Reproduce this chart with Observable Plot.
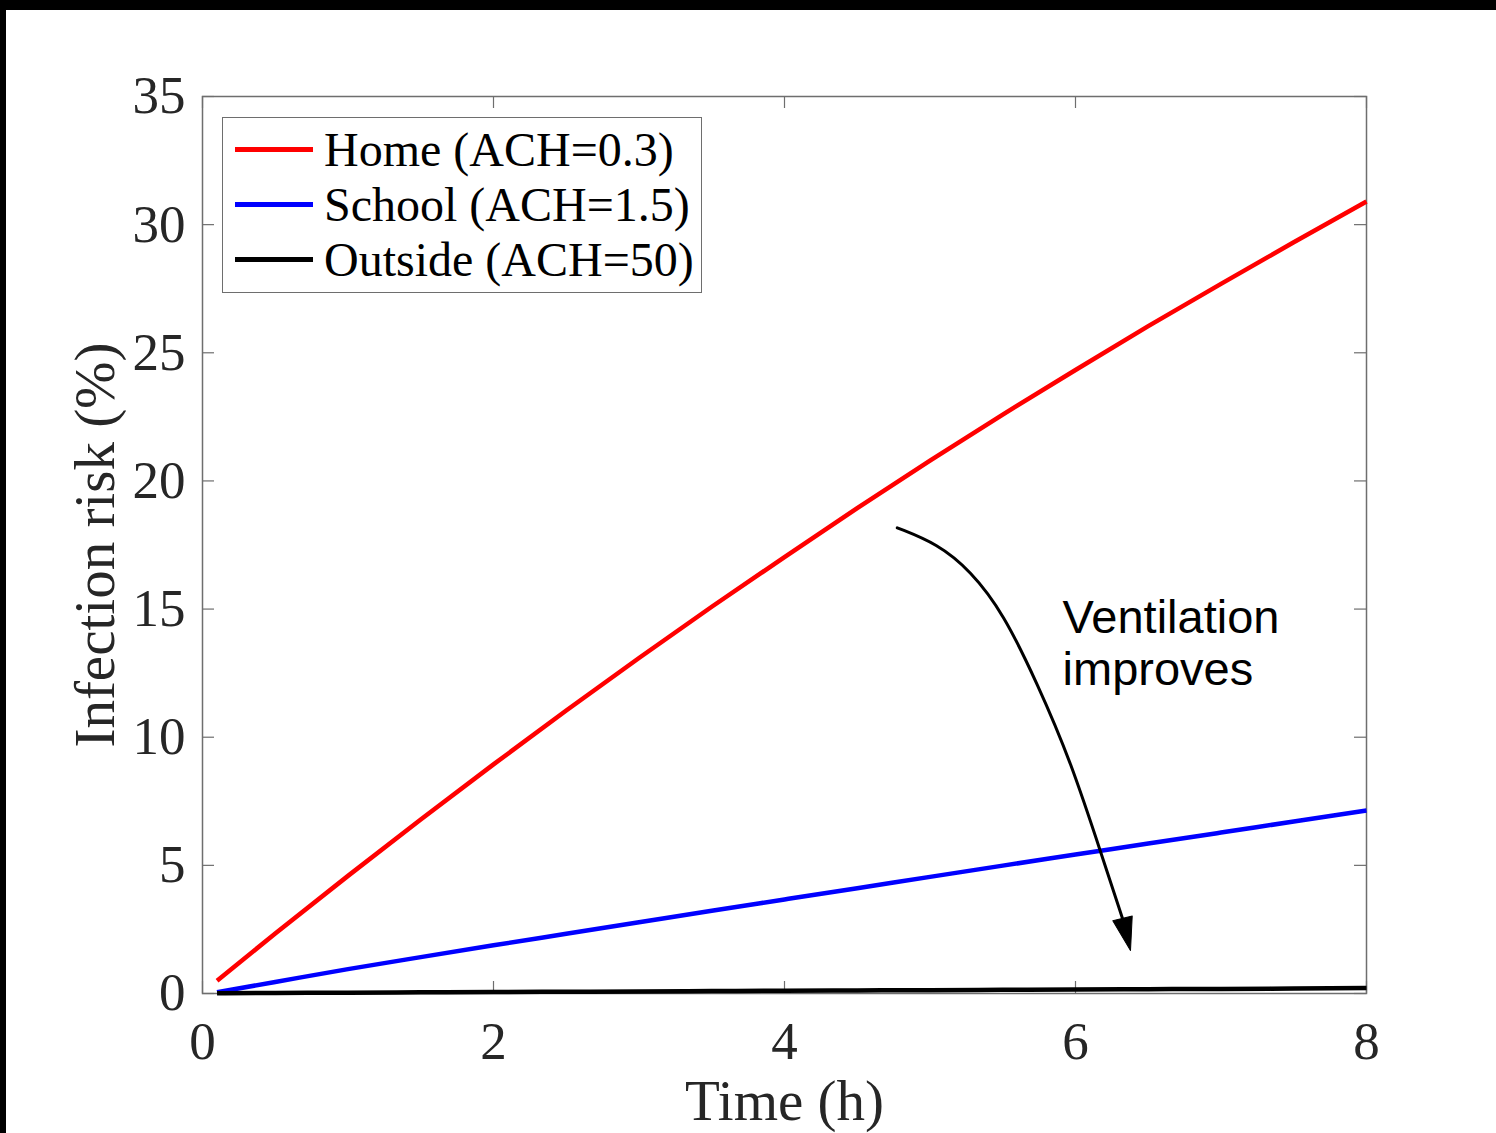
<!DOCTYPE html>
<html>
<head>
<meta charset="utf-8">
<script src="https://cdn.jsdelivr.net/npm/d3@7"></script>
<script src="https://cdn.jsdelivr.net/npm/@observablehq/plot@0.6"></script>
<style>
  html, body { margin: 0; padding: 0; background: #000; }
  #page { position: absolute; left: 6px; top: 10px; width: 1490px; height: 1123px; background: #fff; overflow: hidden; }
  #legend { position: absolute; left: 216px; top: 107px; width: 478px; height: 170px;
            border: 1.5px solid #6e6e6e; background: #fff; padding-top: 4px; box-sizing: content-box;
            font-family: "Liberation Serif", "Times New Roman", serif; font-size: 48px; color: #000; }
  .row { display: flex; align-items: center; height: 55px; }
  .swatch { width: 78px; height: 4.5px; margin-left: 12px; margin-right: 11px; }
  .lab { line-height: 55px; white-space: nowrap; }
</style>
</head>
<body>
<div id="page"><div id="chart"></div><div id="legend"></div></div>
<script>
// ---- data ----
const time    = [0.1, 0.5, 1, 1.5, 2, 2.5, 3, 3.5, 4, 4.5, 5, 5.5, 6, 6.5, 7, 7.5, 8];
const home    = [0.5, 2.34, 4.59, 6.79, 8.94, 11.04, 13.09, 15.09, 17.03, 18.94, 20.79, 22.59, 24.33, 26.04, 27.69, 29.31, 30.9];
const school  = [0.05, 0.45, 0.95, 1.42, 1.88, 2.33, 2.78, 3.23, 3.67, 4.11, 4.55, 4.99, 5.42, 5.85, 6.28, 6.71, 7.14];
const outside = [0.01, 0.02, 0.03, 0.045, 0.06, 0.07, 0.08, 0.095, 0.11, 0.12, 0.13, 0.145, 0.16, 0.17, 0.18, 0.195, 0.21];

const seriesNames  = ["Home (ACH=0.3)", "School (ACH=1.5)", "Outside (ACH=50)"];
const seriesColors = ["#ff0000", "#0000ff", "#000000"];
const seriesValues = [home, school, outside];

const xTicks = [0, 2, 4, 6, 8];
const yTicks = [0, 5, 10, 15, 20, 25, 30, 35];

// annotation arrow path (data coordinates) and label
const arrowT = [4.775, 5.05, 5.278, 5.505, 5.737, 5.966, 6.192, 6.323];
const arrowY = [18.17, 17.55, 16.5, 14.83, 12.1, 9.09, 5.19, 2.93];
const arrowTip = {t: 6.378, y: 1.68};
const noteText = "Ventilation\nimproves";
const notePos = {t: 5.911, y: 15.5};

// ---- build tables ----
const rows = [];
seriesNames.forEach((name, i) => {
  time.forEach((t, j) => rows.push({series: name, t, v: seriesValues[i][j]}));
});
const arrowPts = arrowT.map((t, i) => ({t, y: arrowY[i]}));

const W = 1490, H = 1123, mL = 196, mR = 130, mT = 86, mB = 140;
const pw = W - mL - mR, ph = H - mT - mB;
const frameColor = "#6e6e6e", textColor = "#262626";
const serif = "Liberation Serif, Times New Roman, serif";

const headShape = {
  draw(context, l, r) {
    context.moveTo(0, -l);
    context.lineTo(-r, 0);
    context.lineTo(r, 0);
    context.closePath();
  }
};

const chart = Plot.plot({
  width: W, height: H,
  marginLeft: mL, marginRight: mR, marginTop: mT, marginBottom: mB,
  style: {fontFamily: serif, background: "white", color: textColor},
  x: {domain: [0, 8]},
  y: {domain: [0, 35]},
  color: {domain: seriesNames, range: seriesColors},
  marks: [
    Plot.axisX(xTicks, {tickSize: 0, tickPadding: 28, fontSize: 53, fill: textColor, label: null, tickFormat: d => String(d)}),
    Plot.axisY(yTicks, {tickSize: 0, tickPadding: 17, fontSize: 53, fill: textColor, label: null, tickFormat: d => String(d)}),
    Plot.tickX(xTicks, {x: d => d, insetTop: ph - 12, stroke: frameColor, strokeWidth: 1.2}),
    Plot.tickX(xTicks, {x: d => d, insetBottom: ph - 12, stroke: frameColor, strokeWidth: 1.2}),
    Plot.tickY(yTicks, {y: d => d, insetRight: pw - 12, stroke: frameColor, strokeWidth: 1.2}),
    Plot.tickY(yTicks, {y: d => d, insetLeft: pw - 12, stroke: frameColor, strokeWidth: 1.2}),
    Plot.frame({stroke: frameColor, strokeWidth: 1.5}),
    Plot.line(rows, {x: "t", y: "v", z: "series", stroke: "series", strokeWidth: 4.5,
                     strokeLinecap: "butt", curve: "monotone-x"}),
    Plot.line(arrowPts, {x: "t", y: "y", curve: "basis", stroke: "black", strokeWidth: 3}),
    Plot.vector([arrowTip], {x: "t", y: "y", anchor: "end", length: 33, r: 10, rotate: 166,
                             shape: headShape, fill: "black", stroke: "black", strokeWidth: 1}),
    Plot.text([noteText], {x: () => notePos.t, y: () => notePos.y, text: d => d, textAnchor: "start",
                           lineAnchor: "top", lineHeight: 1.1, fontSize: 47, fill: "black",
                           fontFamily: "Liberation Sans, Arial, sans-serif"}),
    Plot.text(["Infection risk (%)"], {text: d => d, frameAnchor: "left", textAnchor: "middle",
                                        lineAnchor: "middle", rotate: -90, dx: -107,
                                        fontSize: 57, fill: textColor}),
    Plot.text(["Time (h)"], {text: d => d, frameAnchor: "bottom", textAnchor: "middle",
                             lineAnchor: "middle", dy: 108, fontSize: 57, fill: textColor})
  ]
});
document.getElementById("chart").appendChild(chart);

// legend
const legend = document.getElementById("legend");
seriesNames.forEach((name, i) => {
  const row = document.createElement("div");
  row.className = "row";
  const sw = document.createElement("div");
  sw.className = "swatch";
  sw.style.background = seriesColors[i];
  const lab = document.createElement("span");
  lab.className = "lab";
  lab.textContent = name;
  row.appendChild(sw); row.appendChild(lab);
  legend.appendChild(row);
});
</script>
</body>
</html>
